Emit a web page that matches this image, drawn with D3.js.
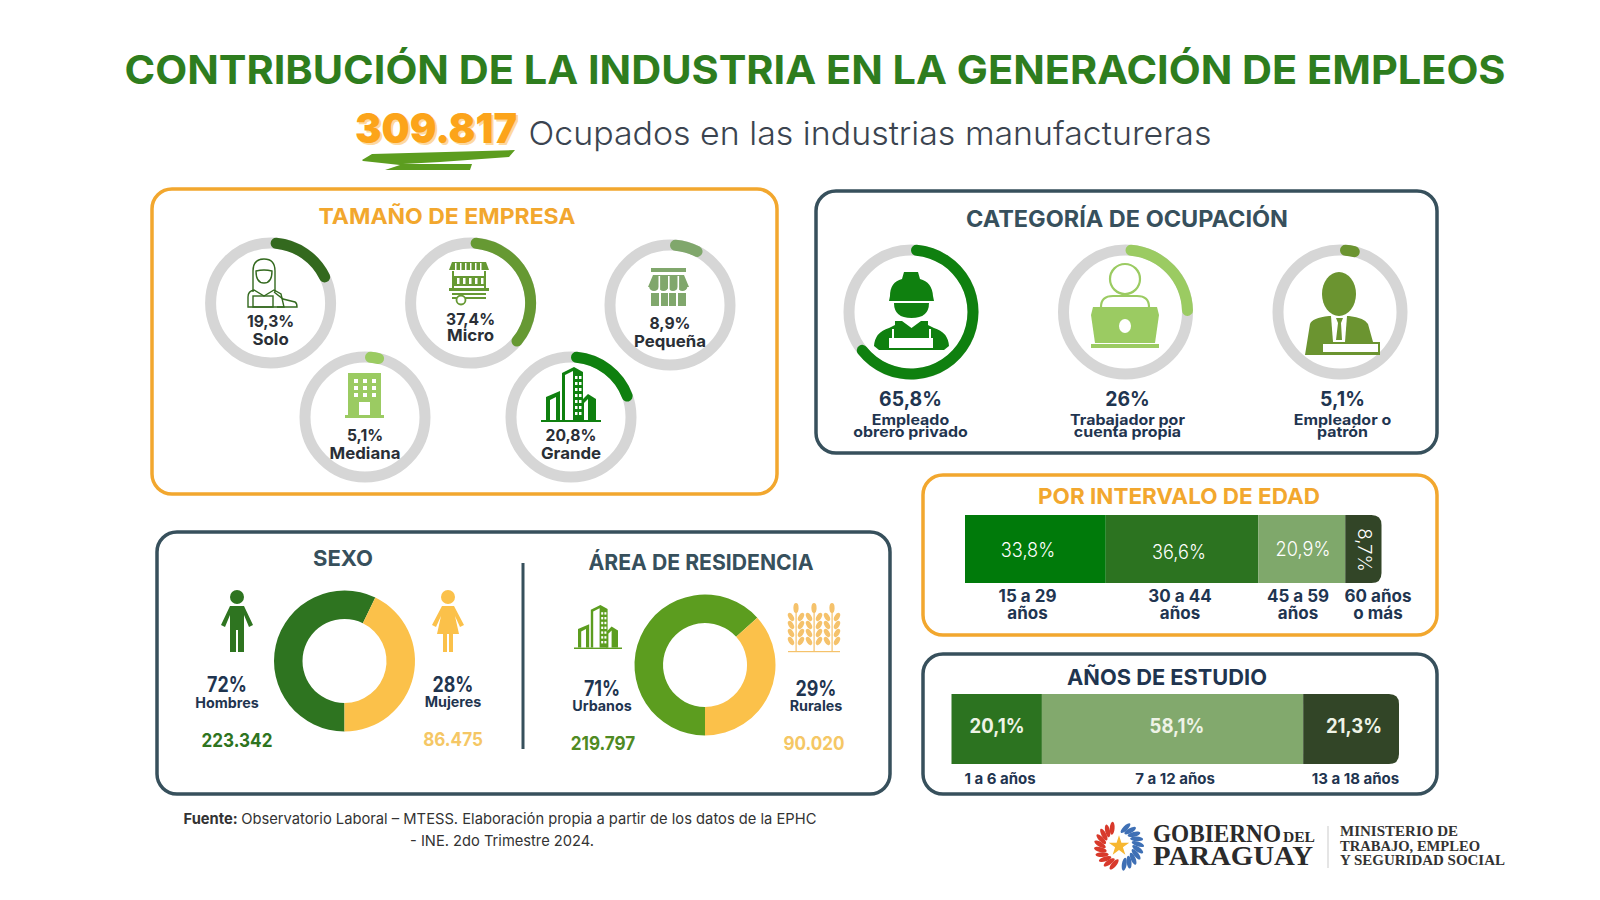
<!DOCTYPE html>
<html>
<head>
<meta charset="utf-8">
<script src="https://cdn.jsdelivr.net/npm/d3@7"></script>
<style>
body { margin: 0; background: #fff; }
text { font-family: Inter, "Noto Sans", sans-serif; }
</style>
</head>
<body>
<script>
var empresaLabels = ["Solo", "Micro", "Pequeña", "Mediana", "Grande"];
var empresaValues = [19.3, 37.4, 8.9, 5.1, 20.8];
var empresaText = ["19,3%", "37,4%", "8,9%", "5,1%", "20,8%"];

var ocupacionLabels = [["Empleado", "obrero privado"], ["Trabajador por", "cuenta propia"], ["Empleador o", "patrón"]];
var ocupacionValues = [65.8, 26, 5.1];
var ocupacionText = ["65,8%", "26%", "5,1%"];

var sexoLabels = ["Hombres", "Mujeres"];
var sexoText = ["72%", "28%"];
var sexoCounts = ["223.342", "86.475"];
var sexoSlices = [57.2, 42.8]; // the ring in the picture is not drawn to 72/28

var areaLabels = ["Urbanos", "Rurales"];
var areaText = ["71%", "29%"];
var areaCounts = ["219.797", "90.020"];
var areaSlices = [63.3, 36.7];

var edadLabels = [["15 a 29", "años"], ["30 a 44", "años"], ["45 a 59", "años"], ["60 años", "o más"]];
var edadValues = [33.8, 36.6, 20.9, 8.7];
var edadText = ["33,8%", "36,6%", "20,9%", "8,7%"];

var estudioLabels = ["1 a 6 años", "7 a 12 años", "13 a 18 años"];
var estudioValues = [20.1, 58.1, 21.3];
var estudioText = ["20,1%", "58,1%", "21,3%"];

var width = 1600;
var height = 900;

var dark = "#37505c";
var navy = "#1f3550";
var orange = "#f2a72e";
var gris = "#d6d6d6";

var svg = d3.select("body")
    .append("svg")
    .attr("width", width)
    .attr("height", height);

// len above 5 is a width in px, below 5 a stretch factor of the natural width
function label(x, y, str, size, weight, color, len) {
    var t = svg.append("text")
        .attr("x", x)
        .attr("y", y)
        .attr("text-anchor", "middle")
        .attr("font-size", size)
        .attr("font-weight", weight)
        .attr("fill", color)
        .text(str);
    if (len) {
        var w = len < 5 ? t.node().getComputedTextLength() * len : len;
        t.attr("textLength", w).attr("lengthAdjust", "spacingAndGlyphs");
    }
    return t;
}

function panel(x0, y0, x1, y1, color) {
    svg.append("rect")
        .attr("x", x0).attr("y", y0)
        .attr("width", x1 - x0).attr("height", y1 - y0)
        .attr("rx", 20)
        .attr("fill", "none")
        .attr("stroke", color)
        .attr("stroke-width", 3.5);
}

// header
label(815, 84, "CONTRIBUCIÓN DE LA INDUSTRIA EN LA GENERACIÓN DE EMPLEOS", 40, 700, "#2e7d1e", 1381);
svg.append("path")
    .attr("d", "M362 160 L372 154 L515 150 L509 157 L440 162 L403 164 L472 164 L470 170 L385 170 L400 165 L363 161 Z")
    .attr("fill", "#5c9d1f");
label(438, 145, "309.817", 41, 900, "#fdd9a0", 162);
label(436, 143, "309.817", 41, 900, "#fca41a", 162);
label(870, 145, "Ocupados en las industrias manufactureras", 33, 300, "#3b4450", 683);

// ring charts
var angle = d3.scaleLinear().domain([0, 100]).range([0, 2 * Math.PI]);

function ring(cx, cy, outer, value, color) {
    var w = 11;
    var g = svg.append("g").attr("transform", "translate(" + cx + "," + cy + ")");
    g.append("circle")
        .attr("r", outer - w / 2)
        .attr("fill", "none")
        .attr("stroke", gris)
        .attr("stroke-width", w);
    var arc = d3.arc()
        .innerRadius(outer - w)
        .outerRadius(outer)
        .cornerRadius(w / 2)
        .startAngle(0)
        .endAngle(angle(value));
    g.append("path").attr("d", arc()).attr("fill", color);
}

// icons are drawn in their own small box, origin top left
function icon(x, y, scale) {
    return svg.append("g").attr("transform", "translate(" + x + "," + y + ") scale(" + scale + ")");
}
function shape(g, d, fill) {
    g.append("path").attr("d", d).attr("fill", fill);
}
function box(g, x, y, w, h, fill) {
    g.append("rect").attr("x", x).attr("y", y).attr("width", w).attr("height", h).attr("fill", fill);
}

function iconMan(g, c) {
    g.append("circle").attr("cx", 16).attr("cy", 7).attr("r", 7).attr("fill", c);
    shape(g, "M9 16 H23 L32 35 L28 37 L23 25 V62 H17 V40 H15 V62 H9 V25 L4 37 L0 35 Z", c);
}
function iconWoman(g, c) {
    g.append("circle").attr("cx", 16).attr("cy", 7).attr("r", 7).attr("fill", c);
    shape(g, "M10 16 H22 L32 35 L28 37 L23 26 L27 44 H21 V62 H17 V44 H15 V62 H11 V44 H5 L9 26 L4 37 L0 35 Z", c);
}
function iconTowers(g, c) {
    shape(g, "M0 53 H60 V55 H0 Z", c);
    shape(g, "M5 30 L19 24 V53 H5 Z", c);
    shape(g, "M9 33 L15 30 V53 H9 Z", "#fff");
    shape(g, "M21 6 L33 0 L42 5 V53 H21 Z", c);
    shape(g, "M24 8 L32 4 V53 H24 Z", "#fff");
    shape(g, "M40 34 L47 27 L55 32 V53 H40 Z", c);
    shape(g, "M43 36 L47 32 V53 H43 Z", "#fff");
    d3.range(9, 46, 6).forEach(function(y) {
        box(g, 34, y, 2.5, 3, "#fff");
        box(g, 38, y, 2.5, 3, "#fff");
    });
}
function iconBuilding(g, c) {
    box(g, 3, 0, 33, 42, c);
    box(g, 0, 42, 39, 3, c);
    box(g, 14, 29, 11, 13, "#fff");
    d3.range(6, 24, 7).forEach(function(y) {
        [9, 18, 27].forEach(function(x) { box(g, x, y, 4, 4, "#fff"); });
    });
}
function iconStore(g, c) {
    box(g, 3, 0, 35, 4, c);
    shape(g, "M5 7 H36 L41 19 H0 Z", c);
    [4, 13.5, 23, 32.5].forEach(function(x) {
        g.append("ellipse").attr("cx", x + 2).attr("cy", 19).attr("rx", 4.8).attr("ry", 4).attr("fill", c);
    });
    [10.5, 20, 29.5].forEach(function(x) { box(g, x, 8, 1.6, 15, "#fff"); });
    box(g, 3, 25, 8, 13, c);
    box(g, 30, 25, 8, 13, c);
    box(g, 13, 25, 7, 13, c);
    box(g, 21, 25, 7, 13, c);
}
function iconCart(g, c) {
    shape(g, "M3 0 H37 L40 8 H0 Z", c);
    d3.range(6, 36, 5).forEach(function(x) { box(g, x, 1, 1.5, 7, "#fff"); });
    box(g, 3, 9, 2, 17, c);
    box(g, 35, 9, 2, 17, c);
    box(g, 5, 14, 30, 10, c);
    d3.range(8, 33, 6).forEach(function(x) { box(g, x, 16, 2.5, 6, "#fff"); });
    box(g, 0, 26, 40, 3, c);
    box(g, 3, 31, 34, 2, c);
    box(g, 3, 35, 34, 2, c);
    g.append("circle").attr("cx", 12).attr("cy", 38).attr("r", 4.5).attr("fill", "#fff").attr("stroke", c).attr("stroke-width", 1.8);
}
function iconSolo(g, c) {
    var s = g.append("g").attr("fill", "none").attr("stroke", c).attr("stroke-width", 1.4);
    s.append("path").attr("d", "M6 33 V12 Q6 0 17 0 Q28 0 28 12 V33");
    s.append("path").attr("d", "M9 12 Q17 10 25 12 Q25 24 17 24 Q9 24 9 12 Z");
    s.append("path").attr("d", "M1 48 V38 Q1 32 7 31 L17 37 L27 31 L34 35 L37 48 Z");
    s.append("rect").attr("x", 6).attr("y", 37).attr("width", 20).attr("height", 11);
    s.append("path").attr("d", "M27 33 L36 40 L48 43 Q50 44 50 48 H30");
}
function iconWorker(g, c) {
    shape(g, "M16 24 Q16 10 28 7 L30 0 H44 L46 7 Q58 10 59 24 L60 29 H15 Z", c);
    shape(g, "M20 31 H55 Q55 46 37.5 46 Q20 46 20 31 Z", c);
    shape(g, "M0 74 Q1 60 15 56 L21 53 V49 H28 L37.5 56 L47 49 H54 V53 L60 56 Q74 60 75 74 L70 78 H5 Z", c);
    box(g, 15, 66, 44, 10, "#fff");
    box(g, 18, 57, 2, 9, "#fff");
    box(g, 55, 57, 2, 9, "#fff");
}
function iconLaptop(g, c) {
    var s = g.append("g").attr("fill", "none").attr("stroke", c).attr("stroke-width", 2.2);
    s.append("ellipse").attr("cx", 34).attr("cy", 16).attr("rx", 15).attr("ry", 15);
    s.append("path").attr("d", "M10 44 Q10 33 22 33 H46 Q58 33 58 44");
    shape(g, "M2 44 H66 L68 52 L64 80 H4 L0 52 Z", c);
    box(g, 0, 81, 68, 4, c);
    g.append("ellipse").attr("cx", 34).attr("cy", 63).attr("rx", 6).attr("ry", 7).attr("fill", "#fff");
}
function iconBoss(g, c) {
    g.append("ellipse").attr("cx", 34).attr("cy", 22).attr("rx", 17).attr("ry", 22).attr("fill", c);
    shape(g, "M0 83 L5 52 Q7 46 24 44 H44 Q60 46 63 52 L68 70 H75 V83 Z", c);
    shape(g, "M26 44 H42 L40 70 H28 Z", "#fff");
    shape(g, "M31 46 H38 L36 51 L37 68 H31 L33 51 Z", c);
    box(g, 18, 72, 55, 8, "#fff");
}
function iconWheat(g, c) {
    [8, 26, 44].forEach(function(x) {
        box(g, x - 0.5, 4, 1.2, 44, c);
        g.append("ellipse").attr("cx", x).attr("cy", 5).attr("rx", 2.6).attr("ry", 5).attr("fill", c);
        d3.range(14, 40, 8).forEach(function(y) {
            g.append("ellipse").attr("cx", x - 5).attr("cy", y).attr("rx", 2.5).attr("ry", 4.5)
                .attr("transform", "rotate(-30," + (x - 5) + "," + y + ")").attr("fill", c);
            g.append("ellipse").attr("cx", x + 5).attr("cy", y).attr("rx", 2.5).attr("ry", 4.5)
                .attr("transform", "rotate(30," + (x + 5) + "," + y + ")").attr("fill", c);
        });
    });
    box(g, 0, 48, 52, 1.2, c);
}

// tamaño de empresa
panel(152, 189, 777, 494, orange);
label(447, 224, "TAMAÑO DE EMPRESA", 22, 700, orange, 257);

var empresaColors = ["#33691e", "#669933", "#80a76c", "#9bcb62", "#0f800f"];
var empresaCx = [270.6, 470.6, 670, 365, 571];
var empresaCy = [303, 303, 305, 417, 417];
var empresaPct = [327, 325, 329, 441, 441];
var empresaName = [345, 341, 347, 459, 459];

empresaValues.forEach(function(v, i) {
    ring(empresaCx[i], empresaCy[i], 65.5, v, empresaColors[i]);
    label(empresaCx[i], empresaPct[i], empresaText[i], 16.5, 700, "#2a2f36", 0.95);
    label(empresaCx[i], empresaName[i], empresaLabels[i], 16.5, 700, "#2a2f36", 1.02);
});
iconSolo(icon(247, 259, 1), empresaColors[0]);
iconCart(icon(449, 262, 1), empresaColors[1]);
iconStore(icon(648, 268, 1), empresaColors[2]);
iconBuilding(icon(345, 373, 1), empresaColors[3]);
iconTowers(icon(541, 367, 1), empresaColors[4]);

// categoria de ocupacion
panel(816, 191, 1437, 453, dark);
label(1127, 227, "CATEGORÍA DE OCUPACIÓN", 23, 700, dark, 322);

var ocupacionColors = ["#0f800f", "#9bcb62", "#6b9430"];
var ocupacionCx = [911, 1125.5, 1340];
var ocupacionTextX = [910.5, 1127.5, 1342.5];

ocupacionValues.forEach(function(v, i) {
    ring(ocupacionCx[i], 312, 67.5, v, ocupacionColors[i]);
    label(ocupacionTextX[i], 406, ocupacionText[i], 20, 700, navy, 0.97);
    label(ocupacionTextX[i], 425, ocupacionLabels[i][0], 14.5, 700, navy, 1.1);
    label(ocupacionTextX[i], 437, ocupacionLabels[i][1], 14.5, 700, navy, 1.1);
});
iconWorker(icon(874, 272, 1), ocupacionColors[0]);
iconLaptop(icon(1091, 263, 1), ocupacionColors[1]);
iconBoss(icon(1305, 272, 1), ocupacionColors[2]);

// sexo y area de residencia
panel(157, 532, 890, 794, dark);
label(343, 566, "SEXO", 22, 700, dark);
label(701, 570, "ÁREA DE RESIDENCIA", 22, 700, dark, 225);
svg.append("rect").attr("x", 521.5).attr("y", 563).attr("width", 3).attr("height", 186).attr("fill", dark);

function donut(cx, cy, slices, colors) {
    var pie = d3.pie().sort(null).startAngle(Math.PI).endAngle(3 * Math.PI);
    var arc = d3.arc().innerRadius(42).outerRadius(70.5);
    svg.append("g")
        .attr("transform", "translate(" + cx + "," + cy + ")")
        .selectAll("path")
        .data(pie(slices))
        .enter()
        .append("path")
        .attr("fill", function(d, i) { return colors[i]; })
        .attr("d", arc);
}
donut(344.5, 661, sexoSlices, ["#2e7420", "#fbc14a"]);
donut(705, 665, areaSlices, ["#5c9d1f", "#fbc14a"]);

iconMan(icon(221, 590, 1), "#2e7420");
iconWoman(icon(432, 590, 1), "#fbc14a");
iconTowers(icon(574, 605, 0.8), "#5c9d1f");
iconWheat(icon(788, 603, 1), "#f5c26b");

function residencia(x, yPct, yName, yCount, xCount, pct, name, count, color) {
    label(x, yPct, pct, 21, 700, navy, 0.85);
    label(x, yName, name, 14, 700, navy, 1.02);
    label(xCount, yCount, count, 19, 700, color, 0.9);
}
residencia(227, 692, 708, 747, 237, sexoText[0], sexoLabels[0], sexoCounts[0], "#2e7420");
residencia(453, 692, 707, 746, 453, sexoText[1], sexoLabels[1], sexoCounts[1], "#f5c765");
residencia(602, 696, 711, 750, 603, areaText[0], areaLabels[0], areaCounts[0], "#4f8a22");
residencia(816, 696, 711, 750, 814, areaText[1], areaLabels[1], areaCounts[1], "#f5c765");

// stacked bars
function roundRight(x, y, w, h, r) {
    return "M" + x + " " + y + " H" + (x + w - r) + " Q" + (x + w) + " " + y + " " + (x + w) + " " + (y + r) +
        " V" + (y + h - r) + " Q" + (x + w) + " " + (y + h) + " " + (x + w - r) + " " + (y + h) + " H" + x + " Z";
}

function stackedBar(values, x0, x1, y0, y1, colors) {
    var x = d3.scaleLinear().domain([0, d3.sum(values)]).range([x0, x1]);
    var starts = [0].concat(Array.from(d3.cumsum(values)));
    values.forEach(function(v, i) {
        var left = x(starts[i]);
        var w = x(starts[i + 1]) - left;
        var r = i == values.length - 1 ? 10 : 0;
        svg.append("path").attr("d", roundRight(left, y0, w, y1 - y0, r)).attr("fill", colors[i]);
    });
}

panel(923, 475, 1437, 635, orange);
label(1179, 504, "POR INTERVALO DE EDAD", 22, 700, orange, 282);
stackedBar(edadValues, 965, 1381.5, 515, 583, ["#007a0a", "#2c7320", "#7fa86b", "#324527"]);

var edadValueX = [1028, 1179, 1303];
var edadValueY = [557, 559, 556];
edadValueX.forEach(function(x, i) {
    label(x, edadValueY[i], edadText[i], 19.5, 300, "#fff", 0.93);
});
svg.append("text")
    .attr("transform", "translate(1358,550) rotate(90)")
    .attr("text-anchor", "middle")
    .attr("font-size", 18.5)
    .attr("font-weight", 300)
    .attr("fill", "#fff")
    .text(edadText[3]);

var edadLabelX = [1027.5, 1180, 1298, 1378];
edadLabels.forEach(function(l, i) {
    label(edadLabelX[i], 602, l[0], 17, 700, navy);
    label(edadLabelX[i], 619, l[1], 17, 700, navy);
});

panel(923, 654, 1437, 794, dark);
label(1167, 685, "AÑOS DE ESTUDIO", 22, 700, navy, 200);
stackedBar(estudioValues, 951.5, 1399, 694, 764, ["#2c7320", "#82a96d", "#324527"]);

var estudioValueX = [997, 1177, 1354];
var estudioLabelX = [1000, 1175, 1355.5];
estudioValueX.forEach(function(x, i) {
    label(x, 733, estudioText[i], 19.5, 700, "#eef3e6", 0.95);
    label(estudioLabelX[i], 784, estudioLabels[i], 15, 700, navy);
});

// fuente
var fuente = label(500, 824, "", 15, 400, "#333");
fuente.append("tspan").attr("font-weight", 700).text("Fuente: ");
fuente.append("tspan").text("Observatorio Laboral – MTESS. Elaboración propia a partir de los datos de la EPHC");
fuente.attr("textLength", 633).attr("lengthAdjust", "spacingAndGlyphs");
label(502, 846, "- INE. 2do Trimestre 2024.", 15, 400, "#333", 184);

// logo
var serif = "'Liberation Serif', serif";
function logoText(x, y, str, size, len, color) {
    svg.append("text")
        .attr("x", x).attr("y", y)
        .attr("font-size", size)
        .attr("font-weight", 700)
        .attr("fill", color)
        .attr("textLength", len)
        .attr("lengthAdjust", "spacingAndGlyphs")
        .style("font-family", serif)
        .text(str);
}
logoText(1153, 842, "GOBIERNO", 25, 128, "#2b2b2b");
logoText(1283, 842, "DEL", 14, 32, "#2b2b2b");
logoText(1153, 865, "PARAGUAY", 28, 160, "#2b2b2b");
svg.append("rect").attr("x", 1327.5).attr("y", 826).attr("width", 1).attr("height", 42).attr("fill", "#ccc");
logoText(1340, 836, "MINISTERIO DE", 14.5, 118, "#333");
logoText(1340, 851, "TRABAJO, EMPLEO", 14.5, 140, "#333");
logoText(1340, 865, "Y SEGURIDAD SOCIAL", 14.5, 165, "#333");

var escudo = svg.append("g").attr("transform", "translate(1119,846)");
escudo.append("path")
    .attr("d", d3.symbol().type(d3.symbolStar).size(130)())
    .attr("fill", "#f7b731");
function hoja(deg, color) {
    escudo.append("ellipse")
        .attr("cy", -19)
        .attr("rx", 2.4)
        .attr("ry", 6.5)
        .attr("transform", "rotate(" + deg + ") rotate(25,0,-19)")
        .attr("fill", color);
}
d3.range(195, 345, 16).forEach(function(a) { hoja(a, "#d8392b"); });
d3.range(20, 170, 16).forEach(function(a) { hoja(a, "#3f70b5"); });
</script>
</body>
</html>
